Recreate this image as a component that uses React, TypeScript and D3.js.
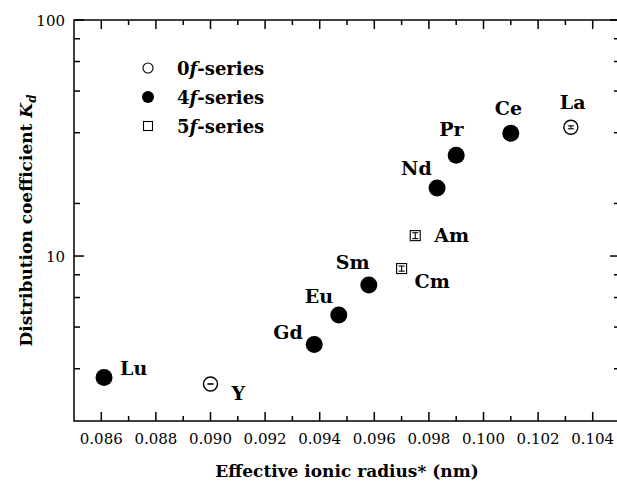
import React, { useEffect, useRef } from 'react';
import * as d3 from 'd3';

// 0f-series (open circles)
const zeroFLabels = ['La', 'Y'];
const zeroFRadius = [0.1032, 0.09];
const zeroFKd = [35.1, 2.87];
const zeroFErr = [0.5, 0.0];

// 4f-series (filled circles)
const fourFLabels = ['Ce', 'Pr', 'Nd', 'Sm', 'Eu', 'Gd', 'Lu'];
const fourFRadius = [0.101, 0.099, 0.0983, 0.0958, 0.0947, 0.0938, 0.0861];
const fourFKd = [33.1, 26.7, 19.4, 7.54, 5.62, 4.22, 3.06];

// 5f-series (open squares)
const fiveFLabels = ['Am', 'Cm'];
const fiveFRadius = [0.0975, 0.097];
const fiveFKd = [12.2, 8.85];
const fiveFErr = [0.35, 0.22];

const legendNames = ['0', '4', '5'];

const xMajorTicks = [0.086, 0.088, 0.09, 0.092, 0.094, 0.096, 0.098, 0.1, 0.102, 0.104];
const xMinorTicks = [0.087, 0.089, 0.091, 0.093, 0.095, 0.097, 0.099, 0.101, 0.103];
const yMajorTicks = [10, 100];
const yMinorTicks = [3.33, 5, 6.67, 8.33, 16.7, 33.3, 50, 66.7, 83.3];

// label placement relative to marker centre (layout only)
const labelOffset: Record<string, [number, number]> = {
  La: [-11, -18], Y: [21, 16],
  Ce: [-16, -18], Pr: [-17, -19], Nd: [-36, -13], Sm: [-33, -16],
  Eu: [-34, -12], Gd: [-41, -5], Lu: [16, -2],
  Am: [19, 6], Cm: [13, 19],
};

const W = 617;
const H = 484;
const margin = { left: 74, top: 20, right: 620, bottom: 421 };
const FONT = '"DejaVu Serif", "Liberation Serif", serif';

const App = () => {
  const ref = useRef<SVGSVGElement>(null);

  useEffect(() => {
    const svg = d3.select(ref.current);
    svg.selectAll('*').remove();

    const x = d3.scaleLinear().domain([0.085, 0.105]).range([margin.left, margin.right]);
    const y = d3.scaleLog().domain([2, 100]).range([margin.bottom, margin.top]);

    const g = svg.append('g').style('font-family', FONT);

    // frame
    g.append('rect')
      .attr('x', margin.left).attr('y', margin.top)
      .attr('width', margin.right - margin.left).attr('height', margin.bottom - margin.top)
      .attr('fill', 'none').attr('stroke', '#000').attr('stroke-width', 1.5);

    const tickLine = (x1: number, y1: number, x2: number, y2: number) =>
      g.append('line').attr('x1', x1).attr('y1', y1).attr('x2', x2).attr('y2', y2)
        .attr('stroke', '#000').attr('stroke-width', 1.5);

    // x ticks, bottom and top, inward
    xMajorTicks.forEach((t) => {
      tickLine(x(t), margin.bottom, x(t), margin.bottom - 9);
      tickLine(x(t), margin.top, x(t), margin.top + 9);
      g.append('text').text(t.toFixed(3))
        .attr('x', x(t)).attr('y', 444)
        .attr('text-anchor', 'middle')
        .style('font-size', '15px');
    });
    xMinorTicks.forEach((t) => {
      tickLine(x(t), margin.bottom, x(t), margin.bottom - 5);
      tickLine(x(t), margin.top, x(t), margin.top + 5);
    });

    // y ticks, left and right, inward
    yMajorTicks.forEach((t) => {
      tickLine(margin.left, y(t), margin.left + 10, y(t));
      tickLine(margin.right, y(t), margin.right - 10, y(t));
      g.append('text').text(d3.format('d')(t))
        .attr('x', 65).attr('y', y(t) + 5.5)
        .attr('text-anchor', 'end')
        .style('font-size', '15px');
    });
    yMinorTicks.forEach((t) => {
      tickLine(margin.left, y(t), margin.left + 6, y(t));
      tickLine(margin.right, y(t), margin.right - 6, y(t));
    });

    // axis titles
    g.append('text').text('Effective ionic radius* (nm)')
      .attr('x', (margin.left + margin.right) / 2).attr('y', 477)
      .attr('text-anchor', 'middle')
      .style('font-size', '17px').style('font-weight', 'bold');

    const yt = g.append('text')
      .attr('transform', `translate(32,${(margin.top + margin.bottom) / 2}) rotate(-90)`)
      .attr('text-anchor', 'middle')
      .style('font-size', '17px').style('font-weight', 'bold');
    yt.append('tspan').text('Distribution coefficient ');
    yt.append('tspan').text('K').style('font-style', 'italic');
    yt.append('tspan').text('d').style('font-style', 'italic')
      .style('font-size', '12px').attr('dy', 4);

    const errBar = (cx: number, lo: number, hi: number) => {
      const y1 = y(lo), y2 = y(hi);
      [[cx, y1, cx, y2], [cx - 3, y1, cx + 3, y1], [cx - 3, y2, cx + 3, y2]].forEach((p) =>
        g.append('line').attr('x1', p[0]).attr('y1', p[1]).attr('x2', p[2]).attr('y2', p[3])
          .attr('stroke', '#000').attr('stroke-width', 1.1));
    };

    const label = (name: string, cx: number, cy: number) => {
      const off = labelOffset[name];
      g.append('text').text(name)
        .attr('x', cx + off[0]).attr('y', cy + off[1])
        .style('font-size', '19px').style('font-weight', 'bold');
    };

    // 4f filled circles
    fourFLabels.forEach((name, i) => {
      const cx = x(fourFRadius[i]), cy = y(fourFKd[i]);
      g.append('circle').attr('cx', cx).attr('cy', cy).attr('r', 8.5).attr('fill', '#000');
      label(name, cx, cy);
    });

    // 0f open circles
    zeroFLabels.forEach((name, i) => {
      const cx = x(zeroFRadius[i]), cy = y(zeroFKd[i]);
      g.append('circle').attr('cx', cx).attr('cy', cy).attr('r', 7)
        .attr('fill', '#fff').attr('stroke', '#000').attr('stroke-width', 1.4);
      errBar(cx, zeroFKd[i] - zeroFErr[i], zeroFKd[i] + zeroFErr[i]);
      label(name, cx, cy);
    });

    // 5f open squares
    fiveFLabels.forEach((name, i) => {
      const cx = x(fiveFRadius[i]), cy = y(fiveFKd[i]);
      g.append('rect').attr('x', cx - 5).attr('y', cy - 5).attr('width', 10).attr('height', 10)
        .attr('fill', '#fff').attr('stroke', '#000').attr('stroke-width', 1.1);
      errBar(cx, fiveFKd[i] - fiveFErr[i], fiveFKd[i] + fiveFErr[i]);
      label(name, cx, cy);
    });

    // legend
    const legendY = [68, 97, 126];
    legendNames.forEach((n, i) => {
      const ly = legendY[i];
      if (i === 0) {
        g.append('circle').attr('cx', 148).attr('cy', ly).attr('r', 5)
          .attr('fill', '#fff').attr('stroke', '#000').attr('stroke-width', 1.1);
      } else if (i === 1) {
        g.append('circle').attr('cx', 148).attr('cy', ly).attr('r', 6).attr('fill', '#000');
      } else {
        g.append('rect').attr('x', 143.5).attr('y', ly - 4.5).attr('width', 9).attr('height', 9)
          .attr('fill', '#fff').attr('stroke', '#000').attr('stroke-width', 1.1);
      }
      const t = g.append('text')
        .attr('x', 177).attr('y', ly + 7)
        .style('font-size', '18px').style('font-weight', 'bold');
      t.append('tspan').text(n);
      t.append('tspan').text('f').style('font-style', 'italic');
      t.append('tspan').text('-series');
    });
  }, []);

  return (
    <div style={{ position: 'absolute', left: 0, top: 0 }}>
      <svg ref={ref} width={W} height={H} style={{ display: 'block', background: '#fff' }} />
    </div>
  );
};

export default App;
